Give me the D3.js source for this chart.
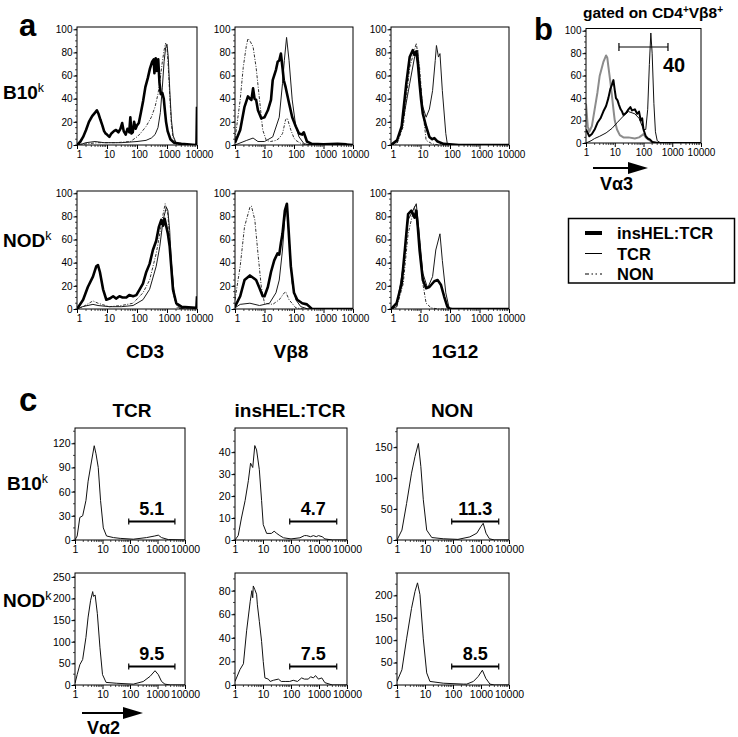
<!DOCTYPE html>
<html><head><meta charset="utf-8">
<script src="https://cdn.jsdelivr.net/npm/d3@7"></script>
<style>
body{margin:0;background:#fff}
svg{display:block}
text{font-family:"Liberation Sans",Arial,Helvetica,sans-serif;fill:#000}
</style>
</head><body>
<svg id="fig" width="738" height="737"></svg>
<script>
// ---------------- DATA ----------------
const decadeTicks = [1, 10, 100, 1000, 10000];
const decadeLabels = ["1", "10", "100", "1000", "10000"];
const pctTicks = [0, 20, 40, 60, 80, 100];
const seriesNames = ["insHEL:TCR", "TCR", "NON"];
const strains = ["B10", "NOD"];
const panelAMarkers = ["CD3", "Vβ8", "1G12"];
const panelCGroups = ["TCR", "insHEL:TCR", "NON"];

// panel a : [fluorescence, % max]
const cd3B10Ins = [[1,0],[1.3,3],[1.6,7],[2,13],[2.5,20],[3.2,25],[4,28],[4.6,30],[5.2,27],[6,22],[7,17],[8,12],[9,10],[10,9],[12,7],[14,10],[17,12],[20,13],[24,11],[28,14],[32,19],[36,12],[42,9],[48,14],[55,11],[60,24],[65,10],[72,11],[80,20],[90,14],[100,17],[115,19],[135,28],[160,38],[190,50],[230,58],[270,66],[320,72],[360,74],[380,62],[420,75],[460,64],[510,74],[560,54],[620,44],[700,45],[780,40],[850,30],[930,20],[1050,12],[1300,5],[1700,2],[3000,1],[9000,0],[9600,1],[10000,33]];
const cd3B10Tcr = [[1,0],[1.5,1],[2,2],[4,3],[8,2],[30,2],[100,3],[200,4],[300,6],[400,9],[500,15],[600,28],[700,50],[800,72],[900,84],[1000,87],[1100,76],[1250,45],[1400,22],[1600,8],[2000,2],[3000,0],[10000,0]];
const cd3B10Non = [[1,0],[2,1],[5,2],[20,2],[60,3],[100,7],[130,10],[200,16],[300,24],[400,33],[500,44],[600,58],[700,72],[800,82],[900,88],[1000,84],[1100,68],[1250,40],[1400,18],[1600,6],[2000,1],[3000,0],[10000,0]];

const vb8B10Ins = [[1,2],[1.5,13],[2.1,33],[2.75,42],[3.2,40],[3.6,39],[4.1,49],[4.6,40],[5.2,39],[6,30],[7.8,23],[10,24],[13,30],[16.6,39],[19,56],[24.5,65],[28,72],[31.6,73],[36,79],[40.7,67],[45,56],[52,50],[68,36],[87,24],[115,16],[148,10],[190,9],[214,11],[275,3],[400,1],[1000,0.5],[3000,1],[6000,0.5],[10000,0]];
const vb8B10Tcr = [[1,0],[2.5,4],[4.1,6],[6,3],[10,3],[19,7],[31.6,24],[40.7,53],[47,73],[56,93],[68,73],[87,39],[115,16],[148,7],[220,1],[400,0],[10000,0]];
const vb8B10Non = [[1,5],[1.5,39],[1.9,67],[2.4,85],[2.75,92],[3.2,90],[4.1,85],[5.2,67],[6.8,39],[8.7,13],[11.5,4],[16,3],[25,4],[32,6],[41,10],[52,22],[60,23],[68,18],[78,13],[100,6],[115,4],[180,1],[300,0],[10000,0]];

const g12B10Ins = [[1,0],[1.6,4],[2.3,16],[3.3,53],[4.3,76],[5.5,82],[6.2,78],[7.2,81],[8.2,70],[9.3,53],[10.5,39],[12,27],[15.5,16],[20,7],[25,5],[29.5,6],[38,3],[60,1],[200,0],[10000,0]];
const g12B10Tcr = [[1,0],[1.6,3],[2.6,22],[4.3,53],[6.3,76],[8.1,82],[9.3,57],[12,33],[15.5,24],[20,31],[25.7,47],[31.6,73],[34.7,86],[40.7,76],[45.7,79],[55,47],[72,10],[81,1],[120,0],[10000,0]];
const g12B10Non = [[1,0],[1.6,1],[2.6,16],[4.3,67],[7.2,88],[9.3,67],[12,30],[15.5,4],[25,1],[40,0],[10000,0]];

const cd3NODIns = [[1,0],[1.6,8],[2.3,19],[3.4,28],[4.4,37],[5,38],[5.8,32],[7.4,17],[9.5,8],[12.3,9],[16,11],[20,9],[26,11],[33,10],[44,10],[55,12],[74,11],[95,12],[123,17],[158,22],[204,32],[263,39],[339,51],[437,59],[537,71],[646,77],[741,72],[832,78],[955,71],[1070,65],[1230,54],[1380,37],[1580,17],[2040,5],[3020,2],[9000,1],[9600,2],[10000,11]];
const cd3NODTcr = [[1,0],[1.5,2],[3.4,4],[5,3],[12,2],[30,2],[74,3],[158,8],[263,17],[437,37],[575,54],[741,77],[955,88],[1070,85],[1230,68],[1380,42],[1820,8],[2500,1],[4000,0],[10000,0]];
const cd3NODNon = [[1,0],[1.6,2],[3.4,7],[5,5],[12,2],[30,3],[74,5],[158,14],[263,25],[437,48],[575,65],[741,82],[870,91],[1070,82],[1290,51],[1580,14],[2200,1],[4000,0],[10000,0]];

const vb8NODIns = [[1,2],[1.5,11],[2.1,25],[3.2,29],[4.1,27],[5.2,25],[6.8,18],[8.7,11],[10,11],[13,19],[16.6,32],[21.4,42],[27.5,48],[31.6,47],[36,57],[40.7,65],[49,85],[57.5,91],[64.6,71],[78,37],[100,14],[129,8],[190,5],[275,4],[407,0],[10000,0]];
const vb8NODTcr = [[1,1],[1.5,4],[3.2,5],[6.8,3],[14.8,5],[24.5,14],[31.6,25],[40.7,51],[49,79],[57.5,88],[68,62],[87,22],[115,8],[170,2],[300,0],[10000,0]];
const vb8NODNon = [[1,8],[1.5,37],[2.1,71],[3.2,88],[3.6,89],[4.7,77],[6,48],[7.8,19],[10,5],[19,4],[31.6,8],[47,14],[52,15],[68,8],[115,1],[200,0],[10000,0]];

const g12NODIns = [[1,0],[1.55,5],[2.3,22],[2.95,51],[3.8,82],[4.9,85],[6.3,79],[7.2,85],[8.1,71],[9.3,51],[12,25],[15.5,18],[20,19],[29.5,24],[38,25],[49,21],[63,11],[81,2],[100,0],[10000,0]];
const g12NODTcr = [[1,0],[1.55,2],[2.6,37],[3.8,77],[5.5,85],[7.2,91],[9.3,62],[12,31],[17.4,18],[25.7,28],[33,51],[45.7,65],[55,42],[72,14],[93,1],[150,0],[10000,0]];
const g12NODNon = [[1,0],[1.55,1],[2.6,22],[3.8,65],[6.3,89],[9.3,59],[12,22],[15.5,5],[22.9,1],[40,0],[10000,0]];

// panel b : Vα3 gated on CD4+Vβ8+
const va3Ins = [[1,12],[1.3,6],[1.6,8],[2,12],[2.5,18],[3.2,22],[4,28],[5,33],[6,40],[7,48],[8,52],[9,56],[10,47],[11,40],[12.5,38],[14,34],[16,30],[18,28],[20,25],[25,27],[30,30],[35,32],[40,29],[50,30],[60,26],[70,28],[80,20],[90,22],[100,12],[120,6],[140,4],[170,3],[200,1],[300,0],[10000,0]];
const va3Tcr = [[1,0],[1.5,2],[2,4],[3,6],[5,9],[8,13],[12,18],[20,24],[30,28],[50,26],[70,22],[90,15],[100,12],[120,12],[140,30],[160,70],[180,98],[200,80],[230,35],[260,10],[300,2],[400,0],[10000,0]];
const va3Non = [[1,35],[1.15,15],[1.3,10],[1.6,15],[2,30],[2.5,45],[3,60],[4,72],[5,78],[5.5,76],[6,68],[7,55],[8,42],[9,30],[10,20],[12,12],[15,7],[20,5],[30,5],[50,4],[70,5],[90,7],[100,8],[120,5],[150,3],[200,1],[300,0],[10000,0]];
const va3Gate = [14, 710];
const va3GateLabel = "40";

// panel c : Vα2 counts
const va2B10Tcr = [[1,0],[1.2,5],[1.5,28],[1.9,30],[2.5,49],[3,73],[4,98],[5,117],[5.8,107],[7,90],[8.5,49],[10.7,15],[14,5],[25,3],[44,2],[132,1],[400,3],[800,5],[1070,6],[1400,3],[2500,0.5],[10000,0]];
const va2B10Ins = [[1,0],[1.3,2],[1.7,10],[2.3,18],[3,27],[3.6,35],[4.3,33],[5.1,43],[5.9,41],[7.4,32],[8.9,18],[10.2,7],[13.5,3],[20,3],[25,4],[31,3],[40,2],[54,1],[100,0.5],[209,1],[300,2],[363,2],[500,1.5],[631,2],[800,1.5],[955,2],[1300,1.5],[1620,0.5],[3000,0],[10000,0]];
const va2B10Non = [[1,0],[1.5,16],[2.2,59],[3.3,108],[4.4,135],[5.8,156],[7.1,119],[8.7,65],[11.5,16],[17.4,4],[44.7,2],[150,1],[400,5],[708,11],[1000,22],[1200,27],[1510,11],[2000,2],[3000,0],[10000,0]];
const va2NODTcr = [[1,4],[1.2,24],[1.5,47],[1.9,59],[2.5,110],[3,157],[3.7,196],[4.4,216],[4.7,205],[5.4,208],[6.5,165],[8.1,86],[10,24],[13.5,6],[33,4],[132,2],[302,8],[537,20],[813,33],[1070,24],[1410,8],[1860,2],[3000,0],[10000,0]];
const va2NODIns = [[1,3],[1.5,13],[2,18],[2.6,46],[3.5,71],[4,80],[4.3,74],[4.5,84],[5.1,81],[5.9,77],[6.3,68],[7.4,54],[8.9,37],[10.2,20],[11.7,6],[15.5,5],[18,3],[23.4,4],[35.5,5],[45,3],[61.7,3],[90,3],[120,4],[170,3],[240,6],[300,5],[417,5],[500,7],[631,6],[750,8],[955,5],[1260,6],[1620,2],[3000,0],[10000,0]];
const va2NODNon = [[1,8],[1.5,34],[2.2,103],[3.3,171],[4.4,209],[5.4,228],[6.6,202],[8.7,103],[11.5,27],[15,8],[45,4],[234,2],[309,2],[537,8],[794,19],[1120,33],[1480,15],[2090,2],[3000,0],[10000,0]];
const va2Gate = [90, 4300];
const va2GateLabels = ["5.1", "4.7", "11.3", "9.5", "7.5", "8.5"];
const va2YMax = [139, 51, 181, 259, 95, 250];
const va2YTicks = [[0,30,60,90,120],[0,10,20,30,40],[0,50,100,150],[0,50,100,150,200,250],[0,20,40,60,80],[0,50,100,150,200]];

// ---------------- DRAWING ----------------
const svg = d3.select("#fig");
const defs = svg.append("defs");
const FONT = '"Liberation Sans",Arial,Helvetica,sans-serif';
const STYLE = {
  ins: {w: 2.6, c: "#000", dash: null},
  tcr: {w: 1, c: "#1a1a1a", dash: null},
  non: {w: 1, c: "#333", dash: "3,1.5,1,1.5"},
  grey: {w: 2, c: "#8c8c8c", dash: null},
  thin: {w: 1, c: "#111", dash: null},
  mid: {w: 2, c: "#000", dash: null}
};
let clipId = 0;

function hist(p) {
  const g = svg.append("g");
  const x = d3.scaleLog().domain([1, 10000]).range([p.x, p.x + p.w]);
  const y = d3.scaleLinear().domain([0, p.yMax]).range([p.y + p.h, p.y]);
  const bottom = p.y + p.h;

  // minor x ticks
  const minorX = [];
  decadeTicks.slice(0, 4).forEach(d => { for (let k = 2; k <= 9; k++) minorX.push(d * k); });
  g.append("g").selectAll("line").data(minorX).join("line")
    .attr("x1", d => x(d)).attr("x2", d => x(d))
    .attr("y1", bottom).attr("y2", bottom + 2)
    .attr("stroke", "#000").attr("stroke-width", 0.7);

  const xa = g.append("g").attr("transform", `translate(0,${bottom})`)
    .call(d3.axisBottom(x).tickValues(decadeTicks).tickFormat((d, i) => decadeLabels[i]).tickSize(4).tickPadding(2));
  xa.select(".domain").remove();
  xa.attr("font-family", FONT).attr("font-size", p.fs || 10);
  xa.selectAll("text").attr("fill", "#000").attr("dx", p.labelDx || 0);

  // minor y ticks
  const minorY = d3.range(0, p.yMax + 0.001, p.minor);
  g.append("g").selectAll("line").data(minorY).join("line")
    .attr("x1", p.x).attr("x2", p.x - 2)
    .attr("y1", d => y(d)).attr("y2", d => y(d))
    .attr("stroke", "#000").attr("stroke-width", 0.7);

  const ya = g.append("g").attr("transform", `translate(${p.x},0)`)
    .call(d3.axisLeft(y).tickValues(p.yTicks).tickSize(3.5).tickPadding(1));
  ya.select(".domain").remove();
  ya.attr("font-family", FONT).attr("font-size", p.fs || 10);
  ya.selectAll("text").attr("fill", "#000");

  // curves
  const id = "clip" + (clipId++);
  defs.append("clipPath").attr("id", id).append("rect")
    .attr("x", p.x).attr("y", p.y - 2).attr("width", p.w).attr("height", p.h + 2);
  const line = d3.line().x(d => x(d[0])).y(d => y(d[1]));
  const cg = g.append("g").attr("clip-path", `url(#${id})`);
  p.curves.forEach(c => {
    const s = STYLE[c.style];
    cg.append("path").datum(c.data).attr("d", line)
      .attr("fill", "none").attr("stroke", s.c).attr("stroke-width", s.w)
      .attr("stroke-linejoin", "round")
      .attr("stroke-dasharray", s.dash);
  });

  // frame
  g.append("rect").attr("x", p.x).attr("y", p.y).attr("width", p.w).attr("height", p.h)
    .attr("fill", "none").attr("stroke", "#000").attr("stroke-width", 1);

  return {x, y, g};
}

function gate(h, lo, hi, yPix, label, opts) {
  const x1 = h.x(lo), x2 = h.x(hi);
  const cap = opts.cap;
  h.g.append("line").attr("x1", x1).attr("x2", x2).attr("y1", yPix).attr("y2", yPix)
    .attr("stroke", "#000").attr("stroke-width", opts.w);
  [x1, x2].forEach(xx => h.g.append("line").attr("x1", xx).attr("x2", xx)
    .attr("y1", yPix - cap).attr("y2", yPix + cap).attr("stroke", "#000").attr("stroke-width", 1.2));
  h.g.append("text").attr("x", opts.lx != null ? opts.lx : (x1 + x2) / 2).attr("y", opts.ly)
    .attr("text-anchor", opts.anchor || "middle").attr("font-size", opts.fs).attr("font-weight", "bold")
    .text(label);
}

function label(x, y, txt, fs, opts = {}) {
  const t = svg.append("text").attr("x", x).attr("y", y).attr("font-size", fs)
    .attr("font-weight", opts.weight || "bold").attr("text-anchor", opts.anchor || "start");
  if (opts.sup) {
    t.append("tspan").text(txt);
    t.append("tspan").text(opts.sup).attr("font-size", fs * 0.65).attr("font-weight", "normal").attr("dy", -fs * 0.38);
  } else t.text(txt);
  return t;
}

// ---- panel a ----
const aCols = [{x: 77, w: 120}, {x: 235, w: 118}, {x: 391, w: 118}];
const aRows = [{y: 27, h: 118}, {y: 191, h: 118}];
const aData = [
  [[cd3B10Non, cd3B10Tcr, cd3B10Ins], [vb8B10Non, vb8B10Tcr, vb8B10Ins], [g12B10Non, g12B10Tcr, g12B10Ins]],
  [[cd3NODNon, cd3NODTcr, cd3NODIns], [vb8NODNon, vb8NODTcr, vb8NODIns], [g12NODNon, g12NODTcr, g12NODIns]]
];
aRows.forEach((r, ri) => aCols.forEach((c, ci) => {
  const [non, tcr, ins] = aData[ri][ci];
  hist({x: c.x, y: r.y, w: c.w, h: r.h, yMax: 102, yTicks: pctTicks, minor: 5, fs: 10, labelDx: 2,
    curves: [{data: non, style: "non"}, {data: tcr, style: "tcr"}, {data: ins, style: "ins"}]});
}));
label(19, 36, "a", 31);
label(3, 99, "B10", 19, {sup: "k"});
label(3, 247, "NOD", 19, {sup: "k"});
label(145, 358, panelAMarkers[0], 19, {anchor: "middle"});
label(291, 358, panelAMarkers[1], 19, {anchor: "middle"});
label(455, 358, panelAMarkers[2], 19, {anchor: "middle"});

// ---- panel b ----
const hb = hist({x: 586, y: 28.5, w: 115, h: 114.5, yMax: 102, yTicks: pctTicks, minor: 5, fs: 10,
  curves: [{data: va3Non, style: "grey"}, {data: va3Tcr, style: "thin"}, {data: va3Ins, style: "mid"}]});
gate(hb, va3Gate[0], va3Gate[1], 47, va3GateLabel, {w: 1, cap: 4, fs: 20, lx: 674, ly: 72});
label(534, 40, "b", 31);
const gt = svg.append("text").attr("x", 583).attr("y", 18).attr("font-size", 15.5).attr("font-weight", "bold");
gt.append("tspan").text("gated on CD4");
gt.append("tspan").text("+").attr("font-size", 10).attr("dy", -5);
gt.append("tspan").text("Vβ8").attr("dy", 5);
gt.append("tspan").text("+").attr("font-size", 10).attr("dy", -5);

function arrow(x1, x2, yy) {
  svg.append("line").attr("x1", x1).attr("x2", x2 - 18).attr("y1", yy).attr("y2", yy)
    .attr("stroke", "#000").attr("stroke-width", 2.2);
  svg.append("path").attr("d", `M${x2 - 20},${yy - 6}L${x2},${yy}L${x2 - 20},${yy + 6}Z`).attr("fill", "#000");
}
arrow(593, 648, 168);
label(600, 190, "Vα3", 18);

// legend
svg.append("rect").attr("x", 568.5).attr("y", 218.5).attr("width", 166).attr("height", 64.5)
  .attr("fill", "none").attr("stroke", "#000").attr("stroke-width", 1.5);
const legStyles = ["ins", "tcr", "non"];
const legW = [4, 1, 1.2];
seriesNames.forEach((n, i) => {
  const yy = 233 + i * 20.5;
  const s = STYLE[legStyles[i]];
  svg.append("line").attr("x1", 585).attr("x2", 602).attr("y1", yy).attr("y2", yy)
    .attr("stroke", "#000").attr("stroke-width", legW[i])
    .attr("stroke-dasharray", i === 2 ? "4,2.5,1.5,2.5,1.5,3" : null);
  label(617, yy + 6, n, 16.5);
});

// ---- panel c ----
const cCols = [{x: 75, w: 110}, {x: 235, w: 112}, {x: 397, w: 112}];
const cRows = [{y: 428, h: 112}, {y: 573, h: 112}];
const cData = [[va2B10Tcr, va2B10Ins, va2B10Non], [va2NODTcr, va2NODIns, va2NODNon]];
cRows.forEach((r, ri) => cCols.forEach((c, ci) => {
  const k = ri * 3 + ci;
  const yt = va2YTicks[k];
  const h = hist({x: c.x, y: r.y, w: c.w, h: r.h, yMax: va2YMax[k], yTicks: yt, minor: (yt[1] - yt[0]) / 2, fs: 10.5,
    curves: [{data: cData[ri][ci], style: "thin"}]});
  const gy = r.y + r.h * 0.835;
  gate(h, va2Gate[0], va2Gate[1], gy, va2GateLabels[k], {w: 2.2, cap: 3, fs: 18, ly: gy - 7});
}));
label(19, 411, "c", 33);
label(132, 417, panelCGroups[0], 19, {anchor: "middle"});
label(290, 417, panelCGroups[1], 19, {anchor: "middle"});
label(452, 417, panelCGroups[2], 19, {anchor: "middle"});
label(7, 490, "B10", 19, {sup: "k"});
label(3, 607, "NOD", 19, {sup: "k"});
arrow(82, 143, 713);
label(87, 734, "Vα2", 18);
</script>
</body></html>
